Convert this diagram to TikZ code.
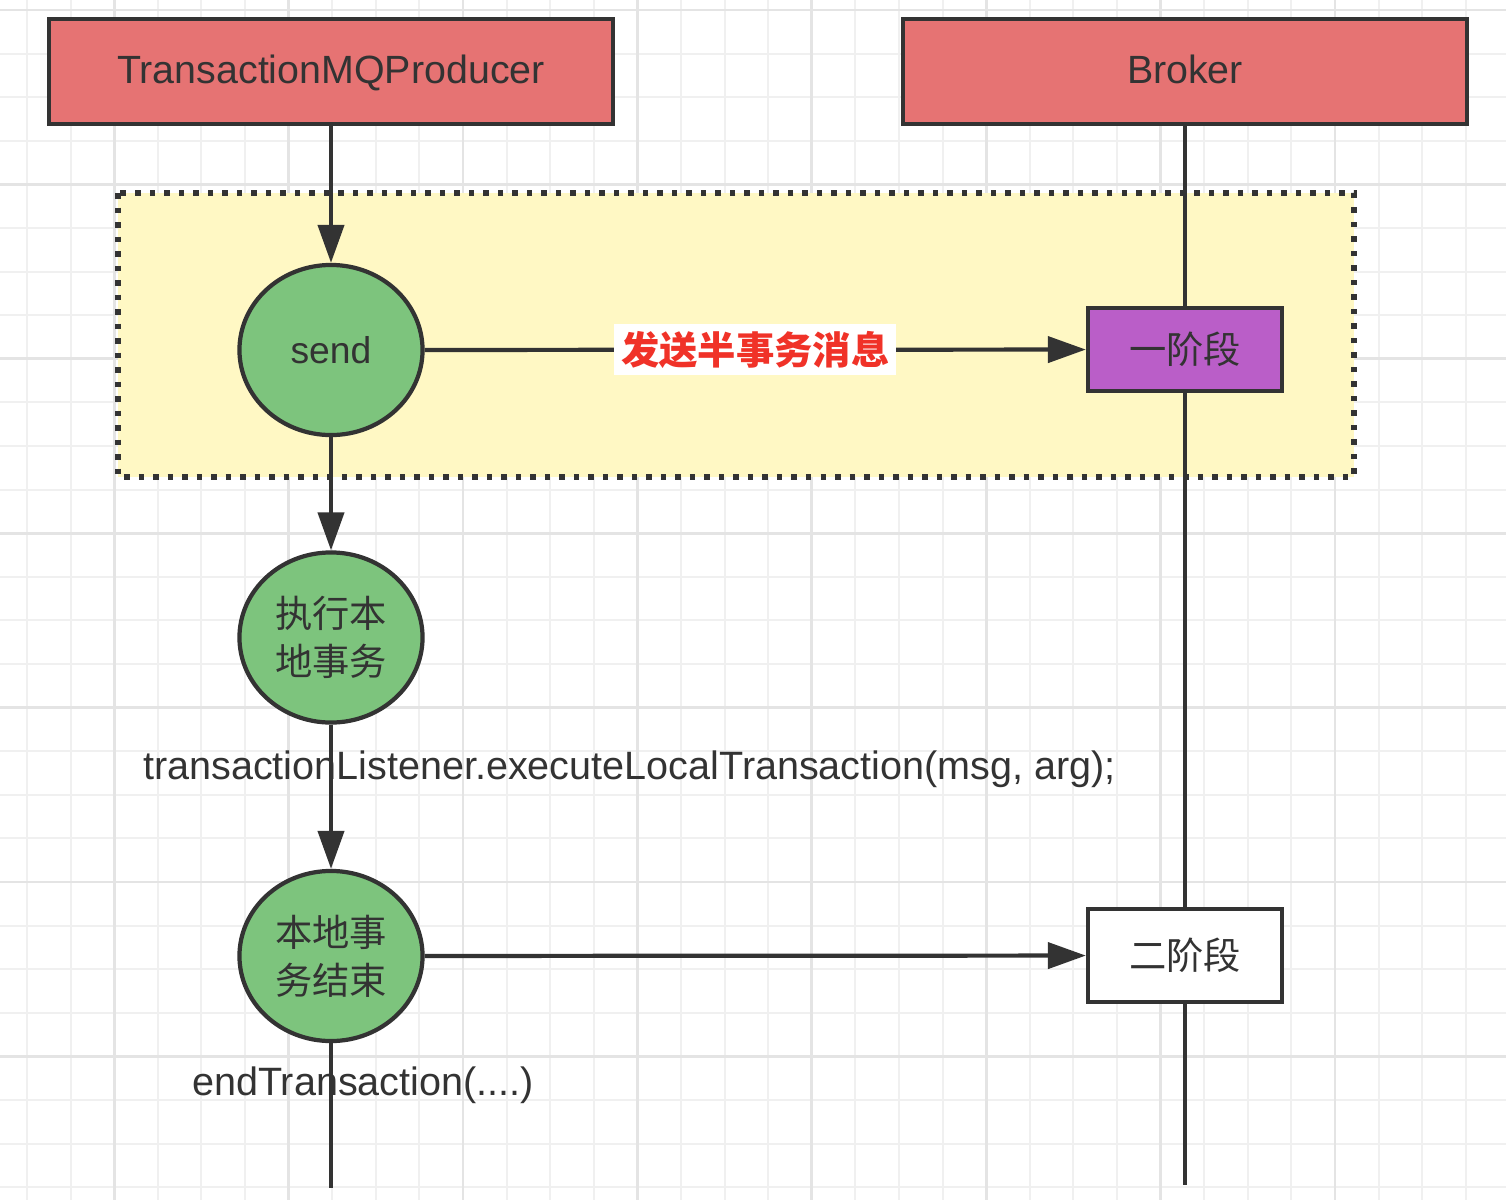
\documentclass[tikz,border=0pt]{standalone}
\usepackage{fontspec}
\setmainfont{Liberation Sans}
\newfontfamily\cjk{Noto Sans CJK SC}
\usetikzlibrary{shapes.geometric,arrows.meta,backgrounds}
\definecolor{lineclr}{HTML}{333333}
\definecolor{boxred}{RGB}{230,115,115}
\definecolor{stepgreen}{RGB}{125,196,125}
\definecolor{phasepurple}{RGB}{186,94,200}
\definecolor{halfyellow}{RGB}{255,248,196}
\definecolor{labelred}{RGB}{240,50,40}
\definecolor{gridclr}{RGB}{240,240,240}
\definecolor{gridmajor}{RGB}{228,228,228}
\tikzset{
  lifebox/.style={draw=lineclr,line width=1.2pt,fill=boxred,minimum width=5.63cm,minimum height=1.05cm,
    text=lineclr,text height=1.6ex,text depth=0.3ex,font=\fontsize{11.2}{13.4}\selectfont},
  stepnode/.style={ellipse,draw=lineclr,line width=1.2pt,fill=stepgreen,minimum width=1.83cm,minimum height=1.70cm,
    inner sep=0pt,align=center,text=lineclr,font=\cjk\fontsize{10.6}{13.6}\selectfont},
  phasebox/.style={draw=lineclr,line width=1.2pt,minimum width=1.94cm,text=lineclr,font=\cjk\fontsize{10.6}{13}\selectfont},
  calltext/.style={text=lineclr,inner sep=0pt,font=\fontsize{11.25}{13.4}\selectfont},
  flow/.style={draw=lineclr,line width=1.2pt,-{Triangle[length=3.8mm,width=2.6mm]}},
  life/.style={draw=lineclr,line width=1.2pt},
  gridline/.style={draw=gridclr,line width=0.6pt},
  gridbold/.style={draw=gridmajor,line width=0.8pt}
}
\begin{document}
\begin{tikzpicture}[x=0.01cm,y=-0.01cm]
\useasboundingbox (0,0) rectangle (1506,1200);
% lanes
\node[lifebox] (producer) at (331,71.5) {TransactionMQProducer};
\node[lifebox] (broker) at (1185,71.5) {Broker};
% steps on the producer side
\node[stepnode] (send) at (331,350) {\fontspec{Liberation Sans}send};
\node[stepnode] (exec) at (331,637.5) {执行本\\地事务};
\node[stepnode] (done) at (331,956) {本地事\\务结束};
\node[phasebox,fill=phasepurple,minimum height=0.83cm] (phase1) at (1185,349.5) {一阶段};
\node[phasebox,fill=white,minimum height=0.93cm] (phase2) at (1185,955.5) {二阶段};
\node[calltext] (execcall) at (629.5,769) {transactionListener.executeLocalTransaction(msg, arg);};
\node[calltext] (endcall) at (363,1085) {endTransaction(....)};
\coordinate (producerend) at (331,1188);
\coordinate (brokerend) at (1185,1185);
\begin{scope}[on background layer]
\foreach \i in {0,...,34}
  \draw[gridline] ({27+43.6*\i},0) -- ({27+43.6*\i},1200);
\foreach \i in {0,...,27}
  \draw[gridline] (0,{10+43.6*\i}) -- (1506,{10+43.6*\i});
\foreach \i in {2,6,...,34}
  \draw[gridbold] ({27+43.6*\i},0) -- ({27+43.6*\i},1200);
\foreach \i in {0,4,...,24}
  \draw[gridbold] (0,{10+43.6*\i}) -- (1506,{10+43.6*\i});
\draw[fill=halfyellow,draw=lineclr,line width=1.7pt,dash pattern=on 0.055cm off 0.09cm]
  (118,193) rectangle (1354,477);
\end{scope}
\draw[flow] (producer) -- (send);
\draw[flow] (send) -- (phase1) node[midway,fill=white,inner sep=2pt,text=labelred,
  font=\cjk\bfseries\fontsize{10.9}{13}\selectfont] {发送半事务消息};
\draw[flow] (send) -- (exec);
\draw[flow] (exec) -- (done);
\draw[flow] (done) -- (phase2);
\draw[life] (done) -- (producerend);
\draw[life] (broker) -- (phase1);
\draw[life] (phase1) -- (phase2);
\draw[life] (phase2) -- (brokerend);
\end{tikzpicture}
\end{document}
